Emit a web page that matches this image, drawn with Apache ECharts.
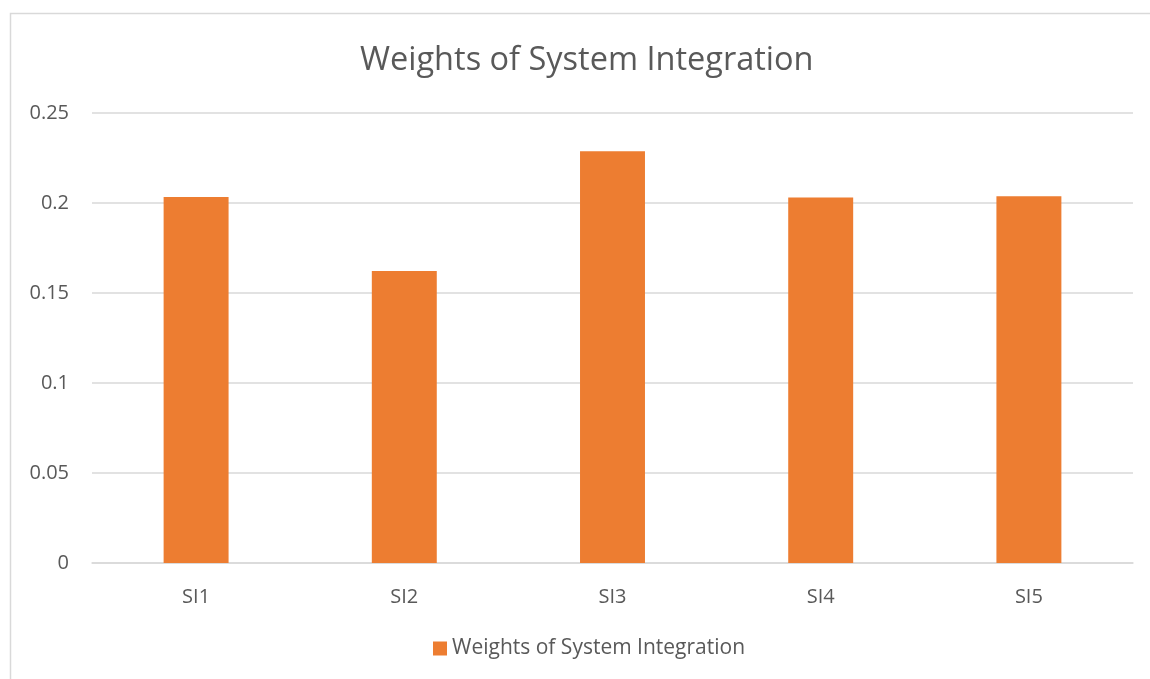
<!DOCTYPE html>
<html>
<head>
<meta charset="utf-8">
<script src="https://cdn.jsdelivr.net/npm/echarts@6/dist/echarts.min.js"></script>
<style>
html,body{margin:0;padding:0;background:#fff;}
#c{width:1150px;height:679px;}
</style>
</head>
<body>
<div id="c"></div>
<script>
const categories = ['SI1', 'SI2', 'SI3', 'SI4', 'SI5'];
const weights = [0.2034, 0.1622, 0.2288, 0.2031, 0.2037];
const seriesName = 'Weights of System Integration';
const titleText = 'Weights of System Integration';

const FONT = '"Open Sans", "Liberation Sans", sans-serif';
const chart = echarts.init(document.getElementById('c'), null, {renderer: 'canvas'});
chart.setOption({
  animation: false,
  backgroundColor: '#ffffff',
  title: {
    text: titleText,
    left: 355,
    top: 39,
    textStyle: {color: '#595959', fontSize: 32.5, fontWeight: 'normal', fontFamily: FONT}
  },
  legend: {
    data: [seriesName],
    bottom: 15,
    left: 428,
    itemWidth: 14,
    itemHeight: 14,
    itemGap: 6,
    icon: 'rect',
    textStyle: {color: '#595959', fontSize: 21, fontFamily: FONT}
  },
  graphic: [{
    type: 'rect',
    shape: {x: 10.5, y: 13.5, width: 1160, height: 700},
    style: {fill: 'none', stroke: '#d9d9d9', lineWidth: 1.5},
    silent: true
  }],
  grid: {left: 92, right: 17, top: 113, bottom: 116},
  xAxis: {
    type: 'category',
    data: categories,
    axisLine: {show: true, lineStyle: {color: '#d9d9d9', width: 1.5}},
    axisTick: {show: false},
    axisLabel: {color: '#595959', fontSize: 20, fontFamily: FONT, margin: 24}
  },
  yAxis: {
    type: 'value',
    min: 0,
    max: 0.25,
    interval: 0.05,
    axisLine: {show: false},
    axisTick: {show: false},
    splitLine: {lineStyle: {color: '#d9d9d9', width: 1.5}},
    axisLabel: {color: '#595959', fontSize: 20, fontFamily: FONT, margin: 23,
      formatter: v => String(parseFloat(v.toFixed(2)))}
  },
  series: [{
    name: seriesName,
    type: 'bar',
    data: weights,
    barWidth: '31.2%',
    itemStyle: {color: '#ed7d31'}
  }]
});
</script>
</body>
</html>
